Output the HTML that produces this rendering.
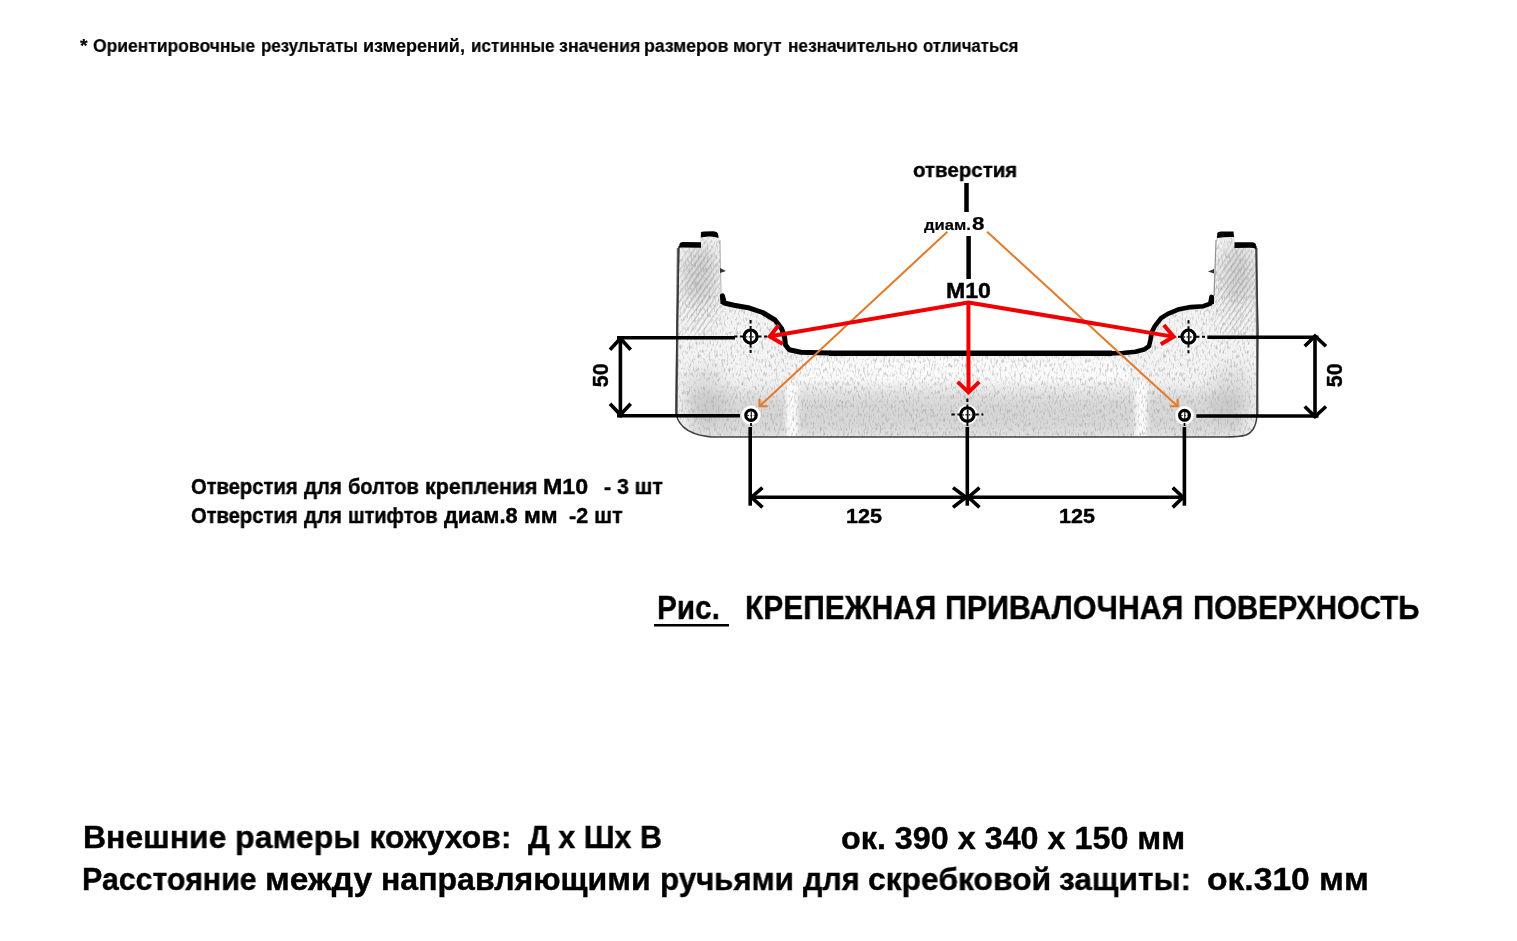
<!DOCTYPE html>
<html><head><meta charset="utf-8"><style>
html,body{margin:0;padding:0;background:#fff;}
body{width:1517px;height:941px;position:relative;overflow:hidden;}
svg{position:absolute;left:0;top:0;}
.t{position:absolute;font-family:"Liberation Sans",sans-serif;font-weight:bold;line-height:1;white-space:pre;color:#000;transform-origin:0 0;will-change:transform;}
</style></head><body>
<svg width="1517" height="941" viewBox="0 0 1517 941"><defs>
<filter id="blur6" x="-50%" y="-50%" width="200%" height="200%"><feGaussianBlur stdDeviation="8"/></filter>
<filter id="blur2" x="-50%" y="-50%" width="200%" height="200%"><feGaussianBlur stdDeviation="2"/></filter>
<pattern id="hatch" width="4.5" height="4.5" patternUnits="userSpaceOnUse" patternTransform="rotate(-55)"><rect width="4.5" height="1.3" fill="#777"/></pattern>
<mask id="hm" maskUnits="userSpaceOnUse" x="0" y="0" width="1517" height="941"><ellipse cx="700" cy="290" rx="22" ry="48" fill="#fff" filter="url(#blur6)"/><ellipse cx="1236" cy="290" rx="22" ry="48" fill="#fff" filter="url(#blur6)"/></mask>
<filter id="blur15" x="-10%" y="-200%" width="120%" height="500%"><feGaussianBlur stdDeviation="1.6"/></filter>
<linearGradient id="shad" x1="0" y1="0" x2="0" y2="1"><stop offset="0" stop-color="#000" stop-opacity="0"/><stop offset="1" stop-color="#000" stop-opacity="0.5"/></linearGradient>
<filter id="tex" x="0" y="0" width="100%" height="100%" filterUnits="userSpaceOnUse">
<feTurbulence type="fractalNoise" baseFrequency="0.55 0.22" numOctaves="2" seed="7" result="n"/>
<feColorMatrix in="n" type="matrix" values="0 0 0 0 0.35  0 0 0 0 0.35  0 0 0 0 0.35  2.0 0 0 0 -1.0"/>
</filter>
</defs>
<clipPath id="bc"><path d="M679,243 L700,243 L700,232 L717,232 L720,237 L720,296 C722,300 724,303 728,304 C740,306 752,308 762,312 C774,318 782,328 784.6,337 C786,346 789,350 800,352.5 L1140,352.5 C1147,351 1149,346 1150,335 C1152,322 1160,316 1170,312 C1185,308 1198,306 1210,304 C1213,301 1213,299 1214,296 L1216,237 L1217,232 L1234,232 L1235,243 L1255,243 L1258,330 L1257,412 C1257,424 1254,432 1246,435 C1240,437 1232,437 1225,437 L712,437 C700,436 686,432 680,423 C677,419 676,416 676,410 L676,330 Z"/></clipPath><path d="M679,243 L700,243 L700,232 L717,232 L720,237 L720,296 C722,300 724,303 728,304 C740,306 752,308 762,312 C774,318 782,328 784.6,337 C786,346 789,350 800,352.5 L1140,352.5 C1147,351 1149,346 1150,335 C1152,322 1160,316 1170,312 C1185,308 1198,306 1210,304 C1213,301 1213,299 1214,296 L1216,237 L1217,232 L1234,232 L1235,243 L1255,243 L1258,330 L1257,412 C1257,424 1254,432 1246,435 C1240,437 1232,437 1225,437 L712,437 C700,436 686,432 680,423 C677,419 676,416 676,410 L676,330 Z" fill="#f4f4f4"/><g clip-path="url(#bc)"><g filter="url(#blur6)" fill="#9a9a9a"><ellipse cx="700" cy="275" rx="16" ry="30" opacity="0.35"/><ellipse cx="1238" cy="275" rx="16" ry="30" opacity="0.35"/><ellipse cx="705" cy="395" rx="22" ry="30" opacity="0.22"/><ellipse cx="1232" cy="395" rx="22" ry="30" opacity="0.22"/><rect x="690" y="392" width="555" height="46" opacity="0.32"/></g><g fill="#fff" filter="url(#blur2)"><rect x="786" y="382" width="12" height="56" opacity="0.9"/><rect x="1135" y="382" width="12" height="56" opacity="0.9"/><rect x="800" y="358" width="330" height="24" opacity="0.6"/></g><rect x="670" y="225" width="600" height="220" fill="url(#hatch)" opacity="0.4" mask="url(#hm)"/><rect x="670" y="225" width="600" height="220" filter="url(#tex)"/></g><path d="M679,246 L677,330 L676,410 C676,416 677,419 680,423 C686,432 700,436 712,437 L1225,437 C1232,437 1240,437 1246,435 C1254,432 1257,424 1257,412 L1258,330 L1256,246" fill="none" stroke="#222" stroke-width="1.5" opacity="0.85"/><path d="M678,248 L676.5,415" stroke="#333" stroke-width="2.4" opacity="0.75"/><path d="M1256.5,248 L1257.5,415" stroke="#333" stroke-width="2.2" opacity="0.7"/><path d="M1216,240 L1214,296" stroke="#555" stroke-width="1.2" opacity="0.6"/><path d="M720,240 L721,296" stroke="#555" stroke-width="1.2" opacity="0.4"/><line x1="806" y1="348" x2="1134" y2="348" stroke="#000" stroke-width="4" opacity="0.6" filter="url(#blur15)"/><polyline points="722.4,295.8 724.3,303 733.9,305.3 748.2,307.7 762.6,312.5 775,320 781.7,328.8 784.6,337.4 785.5,345 789.3,349.8 800.8,352.2 829.5,353.1" fill="none" stroke="#000" stroke-width="5" stroke-linecap="round" stroke-linejoin="round"/><line x1="829" y1="353.2" x2="1112" y2="353.3" stroke="#000" stroke-width="5.5" stroke-linecap="butt"/><polyline points="1211.5,296.9 1210.3,303.7 1203.5,306.2 1190.7,307.1 1178,309.6 1167.8,313.9 1161,318.1 1155,325.8 1151.6,332.6 1150.4,340.2 1149,346.2 1144,349.6 1135.5,351.7 1122.7,353 1110,353.4" fill="none" stroke="#000" stroke-width="4.6" stroke-linecap="round" stroke-linejoin="round"/><path d="M679,248 L679.5,244 Q680,242 683,242 L701,242.3 L701,247.8 L681,247.6 Z" fill="#000"/><path d="M700.8,237.5 L701,232.5 Q701.5,231.5 704,231.5 L713,231.3 Q717,231.5 718,234 L718.5,238 Q714,236 708,236.6 Z" fill="#000"/><path d="M1217,238 L1217.3,233 Q1218,231.5 1221,231.5 L1233.5,231.5 L1234,237 Q1226,236.5 1217,238 Z" fill="#000"/><path d="M1234.5,248 L1234.5,242.3 L1252,242.3 Q1255.5,242.5 1256,245 L1256.3,249 Q1254,247.8 1250,247.8 Z" fill="#000"/><path d="M720,268 L726,271 L720,273 Z" fill="#333"/><path d="M1214,269 L1208,271.5 L1214,273.5 Z" fill="#333"/><path d="M720,296 Q724,293 725,297 L726,304 L720.5,304 Z" fill="#000"/><path d="M1209,304 L1210,298 Q1212,294 1214,296 L1214,304 Z" fill="#000"/><line x1="966.5" y1="183" x2="966.5" y2="212" stroke="#000" stroke-width="4.5" stroke-linecap="butt"/><line x1="968.6" y1="236" x2="968.6" y2="279" stroke="#000" stroke-width="4.5" stroke-linecap="butt"/><line x1="617" y1="337.7" x2="735" y2="337.7" stroke="#000" stroke-width="3.6" stroke-linecap="butt"/><line x1="617" y1="415.7" x2="740" y2="415.7" stroke="#000" stroke-width="3.6" stroke-linecap="butt"/><line x1="620.4" y1="336" x2="620.4" y2="417.5" stroke="#000" stroke-width="3.6" stroke-linecap="butt"/><polyline points="610,349.7 620.4,338.5 630.7,349.7" fill="none" stroke="#000" stroke-width="3.6" stroke-linecap="butt" stroke-linejoin="miter"/><polyline points="610,403.7 620.4,414.8 630.7,403.7" fill="none" stroke="#000" stroke-width="3.6" stroke-linecap="butt" stroke-linejoin="miter"/><line x1="1207.3" y1="337.3" x2="1318.5" y2="337.3" stroke="#000" stroke-width="3.6" stroke-linecap="butt"/><line x1="1196.3" y1="416" x2="1318.5" y2="416" stroke="#000" stroke-width="3.6" stroke-linecap="butt"/><line x1="1315" y1="335.5" x2="1315" y2="417.8" stroke="#000" stroke-width="3.6" stroke-linecap="butt"/><polyline points="1304.7,346.2 1315,336 1326,346.2" fill="none" stroke="#000" stroke-width="3.6" stroke-linecap="butt" stroke-linejoin="miter"/><polyline points="1304.7,406.5 1315,416.5 1326,406.5" fill="none" stroke="#000" stroke-width="3.6" stroke-linecap="butt" stroke-linejoin="miter"/><line x1="750.2" y1="427" x2="750.2" y2="505.7" stroke="#000" stroke-width="3.6" stroke-linecap="butt"/><line x1="967.3" y1="427" x2="967.3" y2="505.7" stroke="#000" stroke-width="3.6" stroke-linecap="butt"/><line x1="1184.4" y1="427" x2="1184.4" y2="505.7" stroke="#000" stroke-width="3.6" stroke-linecap="butt"/><line x1="750.2" y1="497.2" x2="1184.4" y2="497.2" stroke="#000" stroke-width="3.6" stroke-linecap="butt"/><polyline points="762.5,487.6 751.5,497.2 762.5,507.4" fill="none" stroke="#000" stroke-width="3.6" stroke-linecap="butt" stroke-linejoin="miter"/><polyline points="953,487.6 966,497.2 953,507.4" fill="none" stroke="#000" stroke-width="3.6" stroke-linecap="butt" stroke-linejoin="miter"/><polyline points="979.5,487.6 968.5,497.2 979.5,507.4" fill="none" stroke="#000" stroke-width="3.6" stroke-linecap="butt" stroke-linejoin="miter"/><polyline points="1172.7,487.6 1183,497.2 1172.7,507.4" fill="none" stroke="#000" stroke-width="3.6" stroke-linecap="butt" stroke-linejoin="miter"/><circle cx="750.6" cy="336.6" r="9.9" fill="#fff"/><line x1="734.1" y1="336.6" x2="767.1" y2="336.6" stroke="#000" stroke-width="2" stroke-dasharray="3.4 2.6"/><line x1="750.6" y1="320.1" x2="750.6" y2="353.1" stroke="#000" stroke-width="2" stroke-dasharray="3.4 2.6"/><circle cx="750.6" cy="336.6" r="6.5" fill="#fff" stroke="#000" stroke-width="3.2"/><line x1="750.9" y1="331.7" x2="750.9" y2="341.90000000000003" stroke="#111" stroke-width="1.8"/><line x1="745.5" y1="336.90000000000003" x2="755.7" y2="336.90000000000003" stroke="#222" stroke-width="1.4400000000000002" stroke-dasharray="1.8 1.4"/><circle cx="1188.5" cy="336.7" r="9.9" fill="#fff"/><line x1="1172.0" y1="336.7" x2="1205.0" y2="336.7" stroke="#000" stroke-width="2" stroke-dasharray="3.4 2.6"/><line x1="1188.5" y1="320.2" x2="1188.5" y2="353.2" stroke="#000" stroke-width="2" stroke-dasharray="3.4 2.6"/><circle cx="1188.5" cy="336.7" r="6.5" fill="#fff" stroke="#000" stroke-width="3.2"/><line x1="1188.8" y1="331.79999999999995" x2="1188.8" y2="342.0" stroke="#111" stroke-width="1.8"/><line x1="1183.4" y1="337.0" x2="1193.6" y2="337.0" stroke="#222" stroke-width="1.4400000000000002" stroke-dasharray="1.8 1.4"/><circle cx="967.4" cy="414.6" r="10.100000000000001" fill="#fff"/><line x1="951.4" y1="414.6" x2="983.4" y2="414.6" stroke="#000" stroke-width="2" stroke-dasharray="3.4 2.6"/><line x1="967.4" y1="398.6" x2="967.4" y2="430.6" stroke="#000" stroke-width="2" stroke-dasharray="3.4 2.6"/><circle cx="967.4" cy="414.6" r="6.700000000000001" fill="#fff" stroke="#000" stroke-width="3.2"/><line x1="967.6999999999999" y1="409.5" x2="967.6999999999999" y2="420.1" stroke="#111" stroke-width="1.8"/><line x1="962.1" y1="414.90000000000003" x2="972.6999999999999" y2="414.90000000000003" stroke="#222" stroke-width="1.4400000000000002" stroke-dasharray="1.8 1.4"/><circle cx="751" cy="415.2" r="9.6" fill="#fff"/><circle cx="751" cy="415.2" r="5.199999999999999" fill="#fff" stroke="#000" stroke-width="3.2"/><line x1="751.3" y1="411.59999999999997" x2="751.3" y2="419.2" stroke="#111" stroke-width="1.1"/><line x1="747.2" y1="415.5" x2="754.8" y2="415.5" stroke="#222" stroke-width="0.8800000000000001" stroke-dasharray="1.8 1.4"/><circle cx="1184.5" cy="415.3" r="9.3" fill="#fff"/><circle cx="1184.5" cy="415.3" r="4.9" fill="#fff" stroke="#000" stroke-width="3.2"/><line x1="1184.8" y1="412.0" x2="1184.8" y2="419.0" stroke="#111" stroke-width="1.1"/><line x1="1181.0" y1="415.6" x2="1188.0" y2="415.6" stroke="#222" stroke-width="0.8800000000000001" stroke-dasharray="1.8 1.4"/><line x1="751" y1="423" x2="751" y2="426" stroke="#000" stroke-width="1.8" stroke-linecap="butt"/><line x1="1184.5" y1="423" x2="1184.5" y2="426" stroke="#000" stroke-width="1.8" stroke-linecap="butt"/><line x1="947.4" y1="231.8" x2="759.5" y2="406.3" stroke="#e27a2c" stroke-width="2" stroke-linecap="butt"/><polyline points="767.7,406.3 759.5,406.3 759.5,398.8" fill="none" stroke="#e27a2c" stroke-width="2" stroke-linecap="butt" stroke-linejoin="miter"/><line x1="987.1" y1="231.8" x2="1177.6" y2="406.3" stroke="#e27a2c" stroke-width="2" stroke-linecap="butt"/><polyline points="1170,406.3 1177.6,406.3 1177.6,398.7" fill="none" stroke="#e27a2c" stroke-width="2" stroke-linecap="butt" stroke-linejoin="miter"/><polyline points="770.5,336.2 968.4,302.5 1173,336.6" fill="none" stroke="#f00000" stroke-width="4" stroke-linecap="butt" stroke-linejoin="round"/><line x1="968.4" y1="302.5" x2="968.5" y2="391" stroke="#f00000" stroke-width="4" stroke-linecap="butt"/><polyline points="778.8,324.9 769.8,336.4 782.7,344" fill="none" stroke="#f00000" stroke-width="4" stroke-linecap="butt" stroke-linejoin="miter"/><polyline points="1163.8,325 1173.7,336.8 1160.8,344.3" fill="none" stroke="#f00000" stroke-width="4" stroke-linecap="butt" stroke-linejoin="miter"/><polyline points="957.6,381.9 968.5,392.2 979.3,381.9" fill="none" stroke="#f00000" stroke-width="4" stroke-linecap="butt" stroke-linejoin="miter"/><line x1="654" y1="625.3" x2="729" y2="625.3" stroke="#000" stroke-width="2.6" stroke-linecap="butt"/><text transform="translate(608,387.3) rotate(-90)" font-family="Liberation Sans" font-weight="bold" font-size="21.5" stroke="#000" stroke-width="0.4">50</text><text transform="translate(1342,387.3) rotate(-90)" font-family="Liberation Sans" font-weight="bold" font-size="21.5" stroke="#000" stroke-width="0.4">50</text>
</svg>
<div class="t" style="left:80.0px;top:36.56px;font-size:18px;transform:scaleX(1.0857);-webkit-text-stroke:0.2px #000">*</div>
<div class="t" style="left:93.23px;top:36.56px;font-size:18px;transform:scaleX(0.9709);-webkit-text-stroke:0.2px #000">Ориентировочные</div>
<div class="t" style="left:261.16px;top:36.56px;font-size:18px;transform:scaleX(0.9386);-webkit-text-stroke:0.2px #000">результаты</div>
<div class="t" style="left:363.3px;top:36.56px;font-size:18px;transform:scaleX(0.997);-webkit-text-stroke:0.2px #000">измерений,</div>
<div class="t" style="left:471.25px;top:36.56px;font-size:18px;transform:scaleX(0.9488);-webkit-text-stroke:0.2px #000">истинные</div>
<div class="t" style="left:558.61px;top:36.56px;font-size:18px;transform:scaleX(0.99);-webkit-text-stroke:0.2px #000">значения</div>
<div class="t" style="left:644.42px;top:36.56px;font-size:18px;transform:scaleX(0.981);-webkit-text-stroke:0.2px #000">размеров</div>
<div class="t" style="left:733.44px;top:36.56px;font-size:18px;transform:scaleX(0.9592);-webkit-text-stroke:0.2px #000">могут</div>
<div class="t" style="left:787.94px;top:36.56px;font-size:18px;transform:scaleX(0.9602);-webkit-text-stroke:0.2px #000">незначительно</div>
<div class="t" style="left:923.07px;top:36.56px;font-size:18px;transform:scaleX(0.93);-webkit-text-stroke:0.2px #000">отличаться</div>
<div class="t" style="left:912.92px;top:159.02px;font-size:21px;transform:scaleX(0.975);-webkit-text-stroke:0.4px #000">отверстия</div>
<div class="t" style="left:923.9px;top:216.7px;font-size:15px;transform:scaleX(1.1048);-webkit-text-stroke:0.2px #000">диам.</div>
<div class="t" style="left:971.52px;top:214.32px;font-size:19px;transform:scaleX(1.1778);-webkit-text-stroke:0.2px #000">8</div>
<div class="t" style="left:946.32px;top:280.8px;font-size:21.5px;transform:scaleX(1.075);-webkit-text-stroke:0.4px #000">M10</div>
<div class="t" style="left:190.97px;top:475.62px;font-size:21.6px;transform:scaleX(0.9348);-webkit-text-stroke:0.4px #000">Отверстия</div>
<div class="t" style="left:303.7px;top:475.62px;font-size:21.6px;transform:scaleX(0.9436);-webkit-text-stroke:0.4px #000">для</div>
<div class="t" style="left:347.87px;top:475.62px;font-size:21.6px;transform:scaleX(0.9253);-webkit-text-stroke:0.4px #000">болтов</div>
<div class="t" style="left:424.81px;top:475.62px;font-size:21.6px;transform:scaleX(0.9928);-webkit-text-stroke:0.4px #000">крепления</div>
<div class="t" style="left:543.12px;top:475.62px;font-size:21.6px;transform:scaleX(1.075);-webkit-text-stroke:0.4px #000">М10</div>
<div class="t" style="left:604.02px;top:475.62px;font-size:21.6px;transform:scaleX(0.9828);-webkit-text-stroke:0.4px #000">- 3 шт</div>
<div class="t" style="left:190.97px;top:504.72px;font-size:21.6px;transform:scaleX(0.9348);-webkit-text-stroke:0.4px #000">Отверстия</div>
<div class="t" style="left:303.7px;top:504.72px;font-size:21.6px;transform:scaleX(0.9436);-webkit-text-stroke:0.4px #000">для</div>
<div class="t" style="left:347.88px;top:504.72px;font-size:21.6px;transform:scaleX(0.9208);-webkit-text-stroke:0.4px #000">штифтов</div>
<div class="t" style="left:444.3px;top:504.72px;font-size:21.6px;transform:scaleX(1.0097);-webkit-text-stroke:0.4px #000">диам.8</div>
<div class="t" style="left:524.45px;top:504.72px;font-size:21.6px;transform:scaleX(1.0533);-webkit-text-stroke:0.4px #000">мм</div>
<div class="t" style="left:568.9px;top:504.72px;font-size:21.6px;transform:scaleX(0.9962);-webkit-text-stroke:0.4px #000">-2 шт</div>
<div class="t" style="left:845.68px;top:504.92px;font-size:21px;transform:scaleX(1.0242);-webkit-text-stroke:0.4px #000">125</div>
<div class="t" style="left:1058.78px;top:504.92px;font-size:21px;transform:scaleX(1.0242);-webkit-text-stroke:0.4px #000">125</div>
<div class="t" style="left:656.6px;top:591.07px;font-size:33px;transform:scaleX(0.9);-webkit-text-stroke:0.4px #000">Рис.</div>
<div class="t" style="left:744.89px;top:591.07px;font-size:33px;transform:scaleX(0.9058);-webkit-text-stroke:0.4px #000">КРЕПЕЖНАЯ</div>
<div class="t" style="left:945.36px;top:591.07px;font-size:33px;transform:scaleX(0.9196);-webkit-text-stroke:0.4px #000">ПРИВАЛОЧНАЯ</div>
<div class="t" style="left:1193.42px;top:591.07px;font-size:33px;transform:scaleX(0.8896);-webkit-text-stroke:0.4px #000">ПОВЕРХНОСТЬ</div>
<div class="t" style="left:83.31px;top:821.41px;font-size:32px;transform:scaleX(0.9972);-webkit-text-stroke:0.4px #000">Внешние рамеры кожухов:</div>
<div class="t" style="left:527.6px;top:821.41px;font-size:32px;transform:scaleX(0.9547);-webkit-text-stroke:0.4px #000">Д х Шх В</div>
<div class="t" style="left:840.99px;top:821.91px;font-size:32px;transform:scaleX(1.0095);-webkit-text-stroke:0.4px #000">ок. 390 х 340 х 150 мм</div>
<div class="t" style="left:82.4px;top:862.61px;font-size:32px;transform:scaleX(0.9486);-webkit-text-stroke:0.4px #000">Расстояние</div>
<div class="t" style="left:264.9px;top:862.61px;font-size:32px;transform:scaleX(1.048);-webkit-text-stroke:0.4px #000">между</div>
<div class="t" style="left:381.0px;top:862.61px;font-size:32px;transform:scaleX(1.0011);-webkit-text-stroke:0.4px #000">направляющими</div>
<div class="t" style="left:660.25px;top:862.61px;font-size:32px;transform:scaleX(0.9759);-webkit-text-stroke:0.4px #000">ручьями</div>
<div class="t" style="left:802.6px;top:862.61px;font-size:32px;transform:scaleX(0.9526);-webkit-text-stroke:0.4px #000">для</div>
<div class="t" style="left:867.91px;top:862.61px;font-size:32px;transform:scaleX(0.9945);-webkit-text-stroke:0.4px #000">скребковой</div>
<div class="t" style="left:1059.01px;top:862.61px;font-size:32px;transform:scaleX(0.9877);-webkit-text-stroke:0.4px #000">защиты:</div>
<div class="t" style="left:1206.95px;top:862.61px;font-size:32px;transform:scaleX(1.0503);-webkit-text-stroke:0.4px #000">ок.310 мм</div>

</body></html>
